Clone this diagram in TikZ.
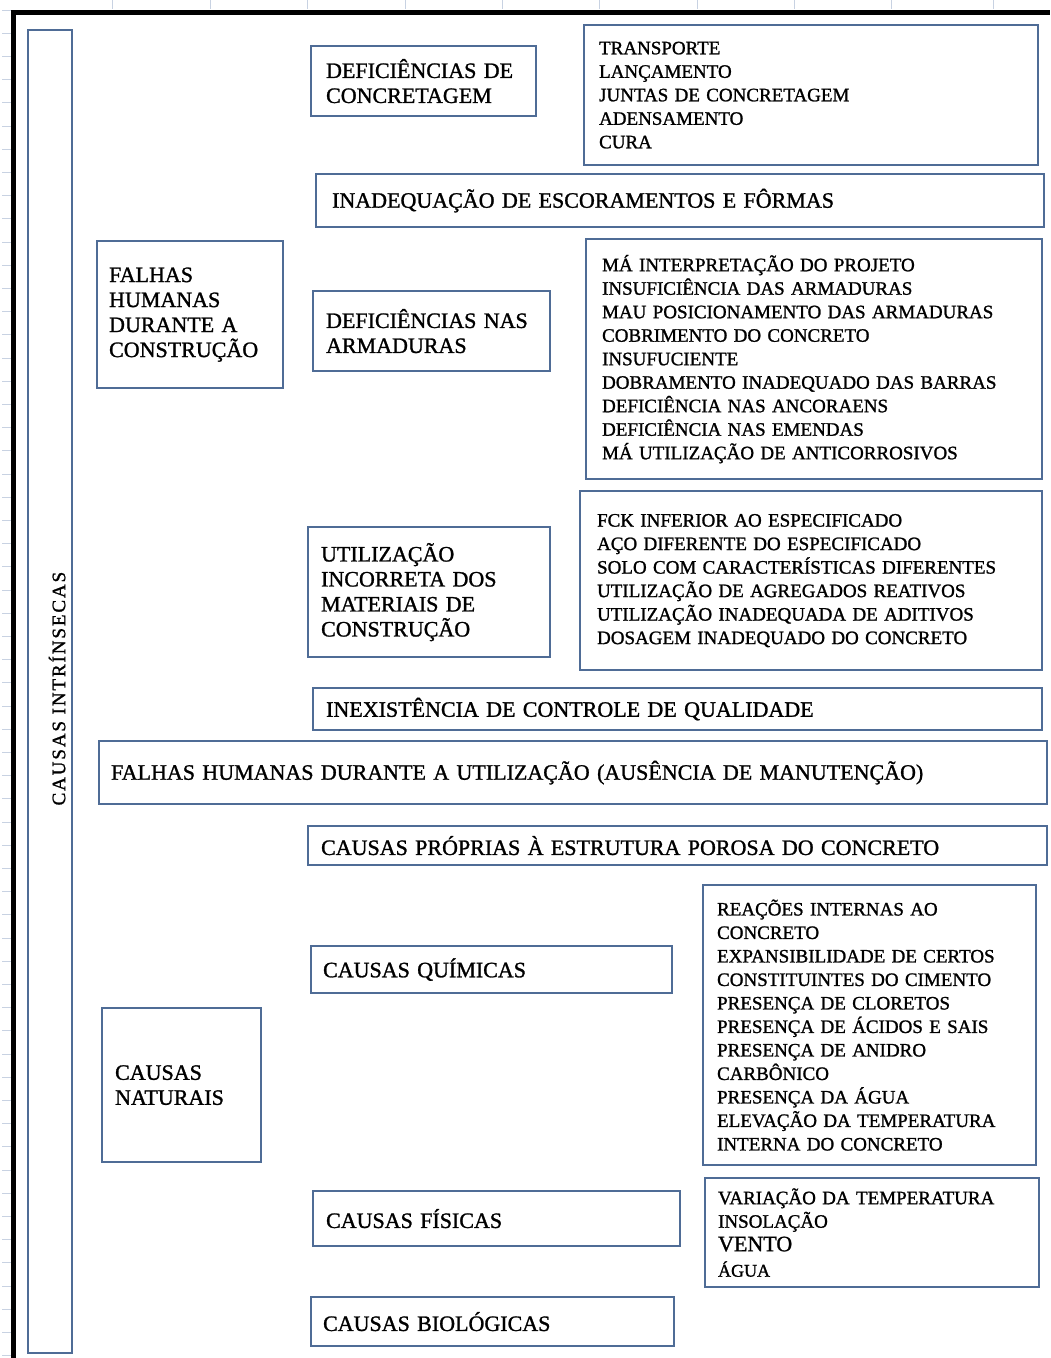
\documentclass[tikz,border=0pt]{standalone}
\usepackage{fontspec}
\setmainfont{Liberation Serif}[FakeBold=1.2]
\begin{document}
\definecolor{boxblue}{RGB}{79,108,150}
\definecolor{gridgray}{RGB}{200,210,226}
% labels of the cause boxes and the item lists
\newcommand\labelsize{\fontsize{22}{25}\selectfont}
\newcommand\itemsize{\fontsize{19}{23.5}\selectfont}
% a framed box given by its corners (x0,y0)-(x1,y1) and left text padding
\newcommand\causebox[8][]{%
  \pgfmathsetmacro\bw{#5-#3}%
  \pgfmathsetmacro\bh{#6-#4}%
  \pgfmathsetmacro\tw{#5-#3-2*#7}%
  \node[bx, #1, minimum width=\bw pt, minimum height=\bh pt,
        text width=\tw pt, inner xsep=#7pt] (#2) at (#3,#4) {#8};}
\begin{tikzpicture}[x=1pt, y=-1pt,
  bx/.style={draw=boxblue, line width=2.2pt, fill=white, anchor=north west,
             inner ysep=0pt, align=left, text=black, font=\labelsize},
  lst/.style={font=\itemsize},
  grid/.style={draw=gridgray, line width=1pt}]
\useasboundingbox (0,0) rectangle (1050,1358);
\fill[white] (0,0) rectangle (1050,1358);
% sheet grid in the margins
\foreach \gx in {112.5,210,307.5,405,502,599,697,794,891,993}
  \draw[grid] (\gx,0) -- (\gx,9);
\foreach \k in {0,...,58}
  \draw[grid] (2,10+23.2*\k) -- (11,10+23.2*\k);
% thick sheet outline
\draw[black, line width=5pt] (13.5,1358) -- (13.5,12) -- (1050,12);

% tall left box
\causebox{intr}{27}{29}{71}{1352}{2}{}
\node[rotate=90, font=\fontsize{19}{19}\selectfont\addfontfeatures{LetterSpace=10}]
  (intrlbl) at ([xshift=7pt, yshift=3pt]intr.center) {CAUSAS INTRÍNSECAS};

% human failures during construction
\causebox{fhc}{96}{240}{282}{387}{12}{FALHAS\\HUMANAS\\DURANTE A\\CONSTRUÇÃO}
\causebox{conc}{310}{45}{535}{115}{15}{DEFICIÊNCIAS DE\\CONCRETAGEM}
\causebox[lst]{l1}{583}{24}{1037}{164}{15}{TRANSPORTE\\LANÇAMENTO\\JUNTAS DE CONCRETAGEM\\ADENSAMENTO\\CURA}
\causebox{esc}{315}{173}{1043}{226}{16}{INADEQUAÇÃO DE ESCORAMENTOS E FÔRMAS}
\causebox{arm}{312}{290}{549}{370}{13}{DEFICIÊNCIAS NAS\\ARMADURAS}
\causebox[lst]{l2}{585}{238}{1041}{478}{16}{MÁ INTERPRETAÇÃO DO PROJETO\\INSUFICIÊNCIA DAS ARMADURAS\\MAU POSICIONAMENTO DAS ARMADURAS\\COBRIMENTO DO CONCRETO\\INSUFUCIENTE\\DOBRAMENTO INADEQUADO DAS BARRAS\\DEFICIÊNCIA NAS ANCORAENS\\DEFICIÊNCIA NAS EMENDAS\\MÁ UTILIZAÇÃO DE ANTICORROSIVOS}
\causebox{mat}{307}{526}{549}{656}{13}{UTILIZAÇÃO\\INCORRETA DOS\\MATERIAIS DE\\CONSTRUÇÃO}
\causebox[lst]{l3}{579}{490}{1041}{669}{17}{FCK INFERIOR AO ESPECIFICADO\\AÇO DIFERENTE DO ESPECIFICADO\\SOLO COM CARACTERÍSTICAS DIFERENTES\\UTILIZAÇÃO DE AGREGADOS REATIVOS\\UTILIZAÇÃO INADEQUADA DE ADITIVOS\\DOSAGEM INADEQUADO DO CONCRETO}
\causebox{ctrl}{312}{687}{1041}{729}{13}{INEXISTÊNCIA DE CONTROLE DE QUALIDADE}

% human failures during use
\causebox{fhu}{98}{740}{1046}{803}{12}{FALHAS HUMANAS DURANTE A UTILIZAÇÃO (AUSÊNCIA DE MANUTENÇÃO)}
\causebox{por}{307}{825}{1046}{864}{13}{CAUSAS PRÓPRIAS À ESTRUTURA POROSA DO CONCRETO}

% natural causes
\causebox{nat}{101}{1007}{260}{1161}{13}{CAUSAS\\NATURAIS}
\causebox{qui}{310}{945}{671}{992}{12}{CAUSAS QUÍMICAS}
\causebox[lst]{l4}{702}{884}{1035}{1164}{14}{REAÇÕES INTERNAS AO\\CONCRETO\\EXPANSIBILIDADE DE CERTOS\\CONSTITUINTES DO CIMENTO\\PRESENÇA DE CLORETOS\\PRESENÇA DE ÁCIDOS E SAIS\\PRESENÇA DE ANIDRO\\CARBÔNICO\\PRESENÇA DA ÁGUA\\ELEVAÇÃO DA TEMPERATURA\\INTERNA DO CONCRETO}
\causebox{fis}{312}{1190}{679}{1245}{13}{CAUSAS FÍSICAS}
\causebox[lst]{l5}{704}{1177}{1038}{1286}{13}{VARIAÇÃO DA TEMPERATURA\\INSOLAÇÃO\\{\fontsize{22}{23.5}\selectfont VENTO}\\[2pt]{\fontsize{18}{23.5}\selectfont ÁGUA}}
\causebox{bio}{310}{1296}{673}{1345}{12}{CAUSAS BIOLÓGICAS}
\end{tikzpicture}
\end{document}
